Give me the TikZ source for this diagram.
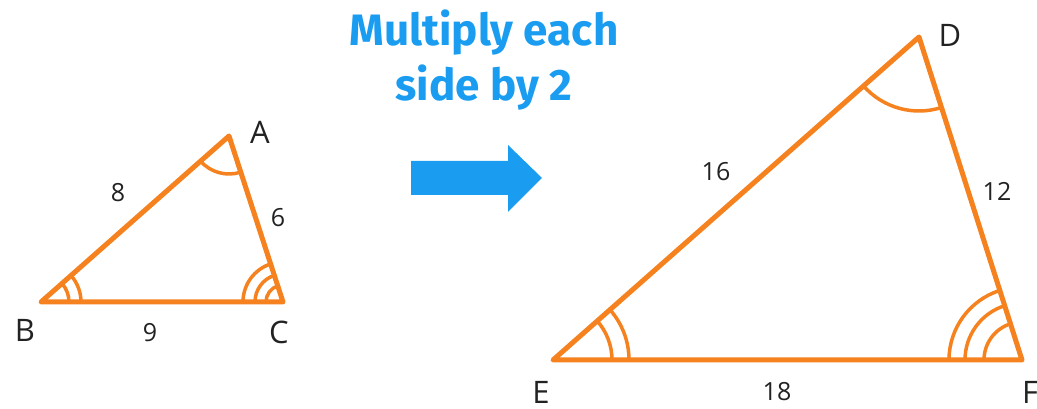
\documentclass[tikz,border=0pt]{standalone}
\usepackage{fontspec}
\setmainfont{Open Sans}
\newfontfamily\titlefont{Fira Sans}
\usetikzlibrary{angles}
\definecolor{tri}{HTML}{F5821F}
\definecolor{ttl}{HTML}{1A9CF0}
\definecolor{lbl}{HTML}{222222}
\tikzset{
  side/.style={draw=tri,line width=5pt,line join=round,line cap=round},
  anglemark/.style={draw=tri,line width=3.5pt},
  vlbl/.style={text=lbl,font=\fontsize{31}{31}\selectfont,inner sep=0pt},
  slbl/.style={text=lbl,font=\fontsize{25}{25}\selectfont,inner sep=0pt},
  ttlt/.style={text=ttl,font=\titlefont\bfseries\fontsize{44}{44}\selectfont,inner sep=0pt},
}
\begin{document}
\begin{tikzpicture}[x=1pt,y=1pt]
\useasboundingbox (0,0) rectangle (1037,409);
% small triangle
\coordinate (A) at (229,273);
\coordinate (B) at (41,107);
\coordinate (C) at (283,107);
\draw[side] (A) -- (B) -- (C) -- cycle;
\pic[anglemark,angle radius=38pt] {angle=B--A--C};
\pic[anglemark,angle radius=28pt] {angle=C--B--A};
\pic[anglemark,angle radius=40pt] {angle=C--B--A};
\pic[anglemark,angle radius=17pt] {angle=A--C--B};
\pic[anglemark,angle radius=28pt] {angle=A--C--B};
\pic[anglemark,angle radius=40pt] {angle=A--C--B};
\node[vlbl] (lA) at (260,277) {A};
\node[vlbl] (lB) at (25,79) {B};
\node[vlbl] (lC) at (279,77) {C};
\node[slbl] (s8) at (118,216) {8};
\node[slbl] (s6) at (278,191) {6};
\node[slbl] (s9) at (150,76) {9};
% big triangle
\coordinate (D) at (919,372);
\coordinate (E) at (553,49);
\coordinate (F) at (1022,49);
\draw[side] (D) -- (E) -- (F) -- cycle;
\pic[anglemark,angle radius=74pt] {angle=E--D--F};
\pic[anglemark,angle radius=59pt] {angle=F--E--D};
\pic[anglemark,angle radius=76pt] {angle=F--E--D};
\pic[anglemark,angle radius=38pt] {angle=D--F--E};
\pic[anglemark,angle radius=57pt] {angle=D--F--E};
\pic[anglemark,angle radius=73pt] {angle=D--F--E};
\node[vlbl] (lD) at (950,374) {D};
\node[vlbl] (lE) at (541,17) {E};
\node[vlbl] (lF) at (1030,17) {F};
\node[slbl] (s16) at (716,237) {16};
\node[slbl] (s12) at (997,218) {12};
\node[slbl] (s18) at (777,17) {18};
% title and arrow
\node[ttlt] (t1) at (484,376) {Multiply each};
\node[ttlt] (t2) at (484,321) {side by 2};
\fill[ttl] (411,248) -- (508,248) -- (508,264) -- (542,231) -- (508,197) -- (508,214) -- (411,214) -- cycle;
\end{tikzpicture}
\end{document}
